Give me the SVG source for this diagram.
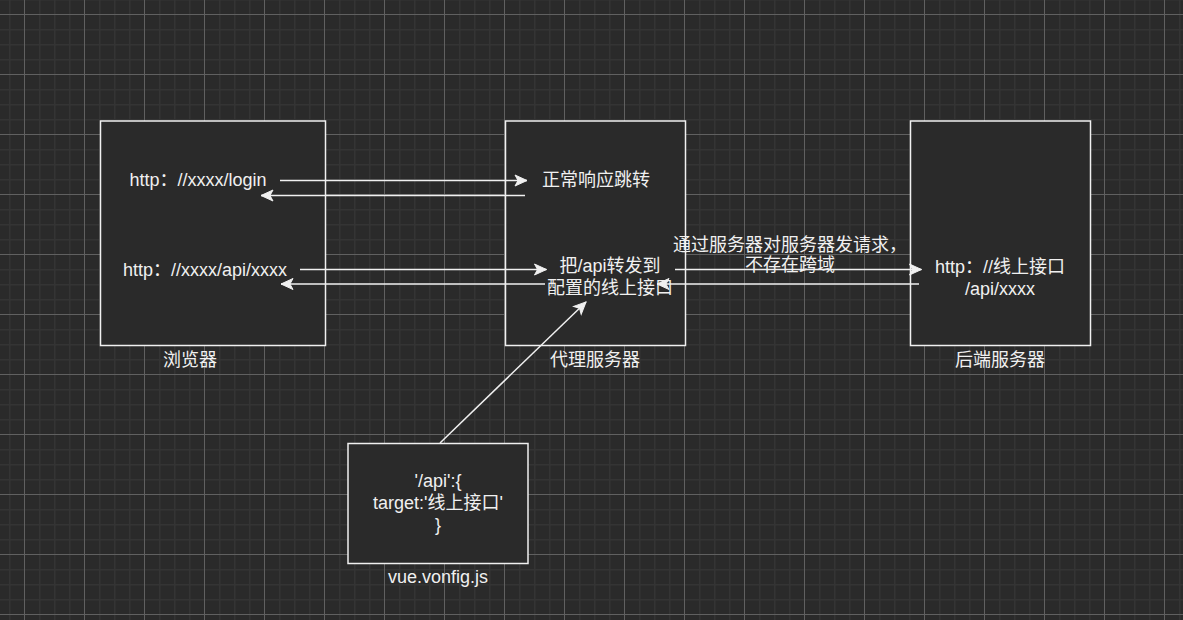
<svg xmlns="http://www.w3.org/2000/svg" width="1183" height="620" viewBox="0 0 1183 620">
<style>
.box{fill:#2a2a2a;stroke:#f0f0f0;stroke-width:1.5}
.t{font-family:"Liberation Sans","Noto Sans CJK SC",sans-serif;font-size:18px;fill:#f0f0f0;text-anchor:middle}
.e{fill:none;stroke:#f0f0f0;stroke-width:1.5;marker-end:url(#arr)}
</style>
<defs>
<pattern id="grid" x="24" y="14" width="60" height="60" patternUnits="userSpaceOnUse">
<rect x="15" y="0" width="1.5" height="60" fill="#343434"/>
<rect x="30" y="0" width="1.5" height="60" fill="#343434"/>
<rect x="45" y="0" width="1.5" height="60" fill="#343434"/>
<rect x="0" y="15" width="60" height="1.5" fill="#343434"/>
<rect x="0" y="30" width="60" height="1.5" fill="#343434"/>
<rect x="0" y="45" width="60" height="1.5" fill="#343434"/>
<rect x="0" y="0" width="1" height="60" fill="#606060"/>
<rect x="0" y="0" width="60" height="1" fill="#606060"/>
</pattern>
<marker id="arr" markerUnits="userSpaceOnUse" markerWidth="16" markerHeight="14" refX="13" refY="6" orient="auto" viewBox="0 0 16 12">
<path d="M13,6 L1,0.5 L4,6 L1,11.5 Z" fill="#f0f0f0" stroke="#f0f0f0" stroke-width="1"/>
</marker>
</defs>
<rect width="1183" height="620" fill="#2a2a2a"/>
<rect width="1183" height="620" fill="url(#grid)"/>

<g id="browser">
<rect class="box" x="100.5" y="121" width="225" height="224.5"/>
<text class="t" x="198" y="186">http：//xxxx/login</text>
<text class="t" x="205" y="276">http：//xxxx/api/xxxx</text>
<text class="t" x="190" y="366">浏览器</text>
</g>

<g id="proxy">
<rect class="box" x="505.5" y="121" width="180" height="224.5"/>
<text class="t" x="596" y="186">正常响应跳转</text>
<text class="t" x="610" y="272">把/api转发到</text>
<text class="t" x="610" y="294">配置的线上接口</text>
<text class="t" x="595" y="366">代理服务器</text>
</g>

<g id="backend">
<rect class="box" x="910.5" y="121" width="180" height="224.5"/>
<text class="t" x="1000" y="273">http：//线上接口</text>
<text class="t" x="1000" y="295">/api/xxxx</text>
<text class="t" x="1000" y="366">后端服务器</text>
</g>

<g id="vueconfig">
<rect class="box" x="348" y="443.5" width="180" height="120"/>
<text class="t" x="438" y="487">'/api':{</text>
<text class="t" x="438" y="509">target:'线上接口'</text>
<text class="t" x="438" y="531">}</text>
<text class="t" x="438" y="583">vue.vonfig.js</text>
</g>

<g id="connectors">
<line class="e" x1="280" y1="180.5" x2="527" y2="180.5"/>
<line class="e" x1="525" y1="195.5" x2="261" y2="195.5"/>
<line class="e" x1="300" y1="269.5" x2="546.5" y2="269.5"/>
<line class="e" x1="545" y1="284" x2="281" y2="284"/>
<line class="e" x1="675" y1="269.5" x2="921.5" y2="269.5"/>
<line class="e" x1="919" y1="284" x2="657" y2="284"/>
<line class="e" x1="440" y1="443" x2="586" y2="302"/>
</g>

<g id="edge-label">
<text class="t" x="790" y="251">通过服务器对服务器发请求，</text>
<text class="t" x="790" y="271">不存在跨域</text>
</g>
</svg>
